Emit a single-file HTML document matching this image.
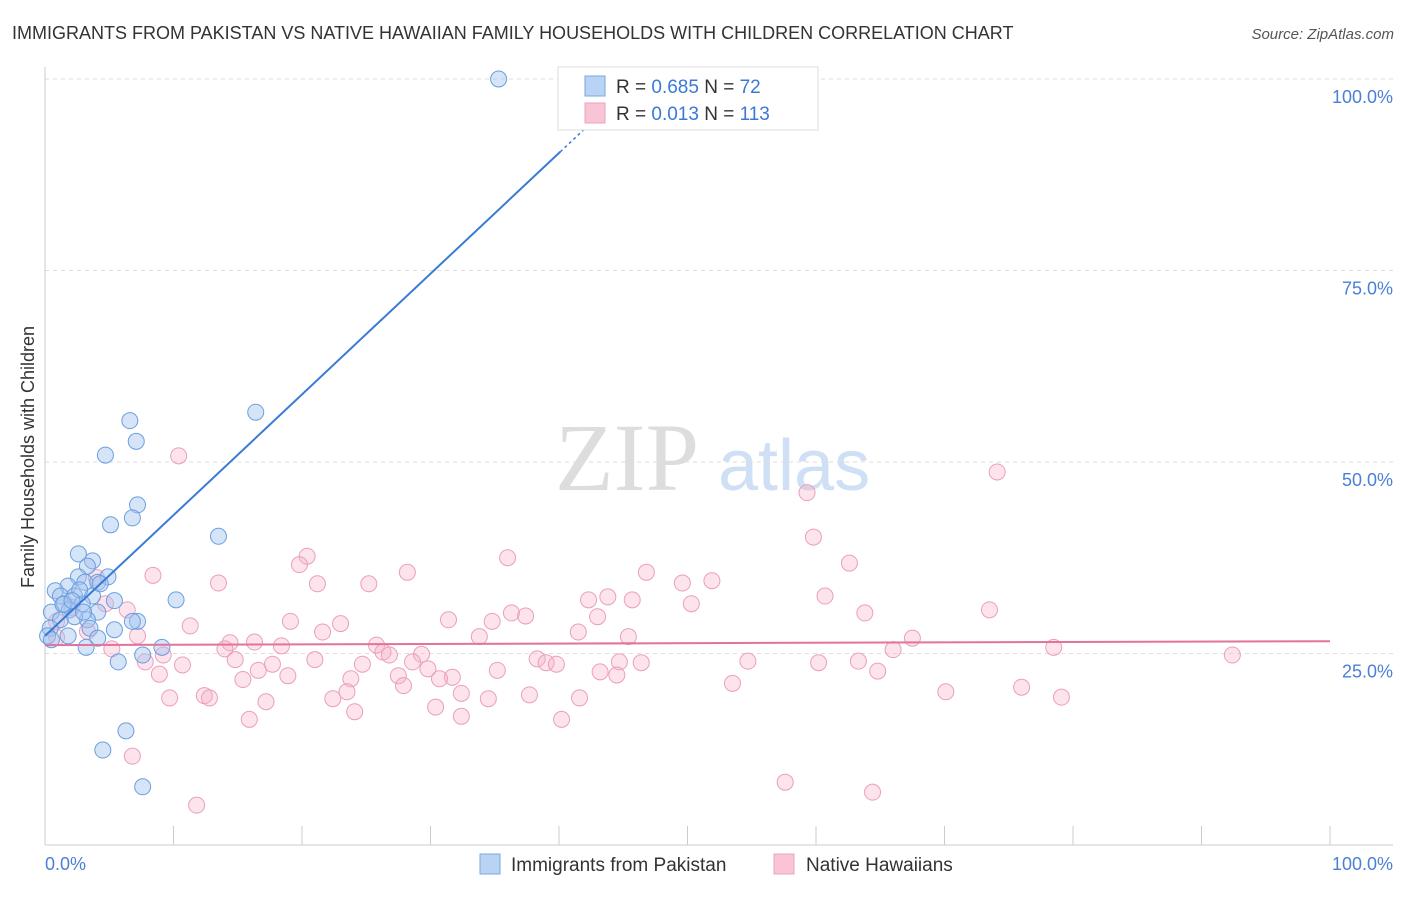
<!DOCTYPE html>
<html><head><meta charset="utf-8">
<style>
body{margin:0;background:#fff;font-family:"Liberation Sans",sans-serif;}
svg text{font-family:"Liberation Sans",sans-serif;}
</style></head>
<body>
<svg id="chart" width="1406" height="892" xmlns="http://www.w3.org/2000/svg">
<text x="12" y="39" font-size="18" fill="#333">IMMIGRANTS FROM PAKISTAN VS NATIVE HAWAIIAN FAMILY HOUSEHOLDS WITH CHILDREN CORRELATION CHART</text>
<text x="1394" y="39" font-size="15" fill="#555" text-anchor="end" font-style="italic">Source: ZipAtlas.com</text>
<g>
<text x="555" y="490" font-size="96" fill="#ddd" font-family="Liberation Serif" style="font-family:'Liberation Serif',serif">ZIP</text>
<text x="718" y="490" font-size="72" fill="#cfdff5">atlas</text>
</g>
<g id="grid"></g>
<g id="axes"></g>
<g id="pts"></g>
<g id="lines"></g>
<text transform="translate(34,457) rotate(-90)" font-size="18" fill="#333" text-anchor="middle">Family Households with Children</text>
<g>
<rect x="558" y="67" width="260" height="63" fill="#fff" stroke="#ddd"/>
<rect x="585" y="76" width="20" height="20" fill="#b9d3f5" stroke="#7aa7e0"/>
<rect x="585" y="103" width="20" height="20" fill="#f8c5d6" stroke="#eca3bd"/>
<text x="616" y="93" font-size="19" fill="#333">R = <tspan fill="#3b78d8">0.685</tspan>   N =  <tspan fill="#3b78d8">72</tspan></text>
<text x="616" y="120" font-size="19" fill="#333">R =  <tspan fill="#3b78d8">0.013</tspan>   N = <tspan fill="#3b78d8">113</tspan></text>
</g>
<g>
<rect x="480" y="854" width="20" height="20" fill="#b9d3f5" stroke="#7aa7e0"/>
<text x="511" y="871" font-size="19" fill="#333">Immigrants from Pakistan</text>
<rect x="774" y="854" width="20" height="20" fill="#f8c5d6" stroke="#eca3bd"/>
<text x="806" y="871" font-size="19" fill="#333">Native Hawaiians</text>
</g>
</svg>
<script>
const blueX=[35.3,16.4,6.6,7.1,4.7,7.2,6.8,5.1,13.5,2.6,3.7,3.3,4.9,2.6,3.1,4.1,1.8,0.8,1.2,2.3,3.7,5.4,10.2,1.5,2.9,1.9,4.1,0.5,3.3,1.2,7.2,6.8,2.3,0.4,3.5,5.4,1.8,4.1,0.2,0.5,3.2,9.1,7.6,5.7,6.3,4.5,7.6,1.4,2.7,4.3,2.1,3.0];
const blueY=[100,56.5,55.4,52.7,50.9,44.4,42.7,41.8,40.3,38.0,37.1,36.4,35.0,35.0,34.3,34.3,33.8,33.2,32.5,32.5,32.5,31.9,32.0,31.5,31.5,30.7,30.4,30.4,29.4,29.4,29.2,29.2,29.8,28.3,28.3,28.1,27.3,27.0,27.3,26.8,25.8,25.8,24.8,23.9,14.9,12.4,7.6,31.4,33.3,34.1,31.9,30.4];
const pinkX=[10.4,74.1,59.3,59.8,36.0,20.4,19.8,62.6,8.4,28.2,46.8,13.5,21.2,25.2,49.6,51.9,43.8,42.3,45.7,60.7,50.3,73.5,63.8,36.3,37.4,43.0,31.4,34.8,19.1,23.0,11.3,6.4,21.6,41.5,33.8,45.4,67.5,7.2,14.4,16.3,18.4,25.8,14.0,5.2,26.3,26.8,29.3,66.0,78.5,92.4,9.2,14.8,21.0,38.3,39.0,39.8,44.7,46.4,28.6,17.7,24.7,54.7,60.2,63.3,7.8,10.7,29.8,35.2,8.9,16.6,18.9,27.5,43.2,44.5,64.8,23.8,31.7,30.7,15.4,53.5,27.9,76.0,23.5,32.4,70.1,37.7,9.7,12.4,22.4,34.5,41.6,79.1,12.8,17.2,30.4,24.1,32.4,15.9,40.2,6.8,57.6,64.4,11.8,0.9,3.3,4.7,4.0,0.9,2.1];
const pinkY=[50.8,48.7,46.0,40.2,37.5,37.7,36.6,36.8,35.2,35.6,35.6,34.2,34.1,34.1,34.2,34.5,32.4,32.0,32.0,32.5,31.5,30.7,30.3,30.3,29.9,29.8,29.4,29.2,29.2,28.9,28.6,30.7,27.8,27.8,27.2,27.2,27.0,27.3,26.4,26.5,26.0,26.1,25.6,25.6,25.2,24.8,24.9,25.5,25.8,24.8,24.8,24.2,24.2,24.3,23.8,23.6,23.9,23.8,23.9,23.6,23.6,24.0,23.8,24.0,23.9,23.5,23.0,22.8,22.3,22.8,22.1,22.1,22.6,22.2,22.7,21.7,21.9,21.7,21.6,21.1,20.8,20.6,20.0,19.8,20.0,19.6,19.2,19.5,19.1,19.1,19.2,19.3,19.2,18.7,18.0,17.4,16.8,16.4,16.4,11.6,8.2,6.9,5.2,29.2,27.9,31.5,34.9,27.1,31.0];
const yTicks=[25,50,75,100];
const yTickLabels=["25.0%","50.0%","75.0%","100.0%"];
const xTicks=[0,10,20,30,40,50,60,70,80,90,100];
const blueFit=[27.3,1.576];
const pinkFit=[26.1,26.6];
const NS='http://www.w3.org/2000/svg';
const sx=v=>45+v*12.85, sy=v=>845-v*7.66;
function mk(tag,attrs,parent){const e=document.createElementNS(NS,tag);for(const k in attrs)e.setAttribute(k,attrs[k]);parent.appendChild(e);return e;}
const grid=document.getElementById('grid'),axes=document.getElementById('axes'),pts=document.getElementById('pts'),lines=document.getElementById('lines');
yTicks.forEach((t,i)=>{
 const l=mk('line',{x1:45,x2:1393,y1:sy(t),y2:sy(t),stroke:'#ddd','stroke-dasharray':'4,4'},grid);
 
 
 const tx=mk('text',{x:1393,y:sy(t)+24,'font-size':18,fill:'#4a7fd6','text-anchor':'end'},axes);
 tx.textContent=yTickLabels[i];
 
 
});
const ax=mk('line',{x1:45,x2:1393,y1:845,y2:845,stroke:'#ccc'},axes);


const ay=mk('line',{x1:45,x2:45,y1:67,y2:845,stroke:'#ccc'},axes);


xTicks.forEach(t=>{
 const l=mk('line',{x1:sx(t),x2:sx(t),y1:826,y2:845,stroke:'#ccc'},axes);
 
 
});
const xl0=mk('text',{x:45,y:870,'font-size':18,fill:'#4a7fd6'},axes);xl0.textContent='0.0%';


const xl1=mk('text',{x:1393,y:870,'font-size':18,fill:'#4a7fd6','text-anchor':'end'},axes);xl1.textContent='100.0%';


pinkX.forEach((x,i)=>{
 const c=mk('circle',{cx:sx(x),cy:sy(pinkY[i]),r:8,fill:'rgba(246,176,200,0.35)',stroke:'#eb9fbb','stroke-width':1},pts);
 
 
});
blueX.forEach((x,i)=>{
 const c=mk('circle',{cx:sx(x),cy:sy(blueY[i]),r:8,fill:'rgba(164,196,240,0.45)',stroke:'#6a9fe0','stroke-width':1},pts);
 
 
});
const bx1=40.1,bx2=43.5;
const bl=mk('line',{x1:sx(0),y1:sy(blueFit[0]),x2:sx(bx1),y2:sy(blueFit[0]+blueFit[1]*bx1),stroke:'#3a7bd5','stroke-width':2},lines);


const bd=mk('line',{x1:sx(bx1),y1:sy(blueFit[0]+blueFit[1]*bx1),x2:sx(bx2),y2:sy(blueFit[0]+blueFit[1]*bx2),stroke:'#3a7bd5','stroke-width':1.5,'stroke-dasharray':'3,3'},lines);


const pl=mk('line',{x1:sx(0),y1:sy(pinkFit[0]),x2:sx(100),y2:sy(pinkFit[1]),stroke:'#e2739b','stroke-width':2},lines);


</script>
</body></html>
